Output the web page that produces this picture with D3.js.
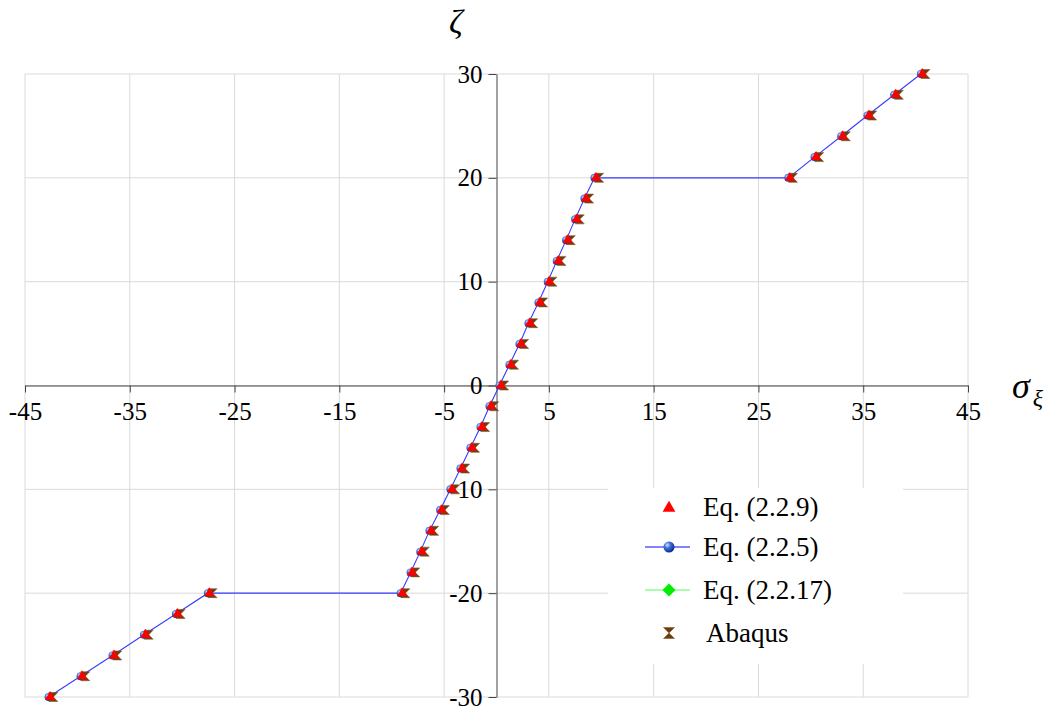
<!DOCTYPE html>
<html>
<head>
<meta charset="utf-8">
<script src="https://cdn.jsdelivr.net/npm/d3@7"></script>
<style>
  body { margin: 0; background: #fff; }
  svg { display: block; }
  .tick text { font-family: "Liberation Serif", serif; font-size: 25px; fill: #000; }
</style>
</head>
<body>
<div id="chart"></div>
<script>
// valeurs
const zeta = [-30, -28, -26, -24, -22, -20,
  -20, -18, -16, -14, -12, -10, -8, -6, -4, -2, 0, 2, 4, 6, 8, 10, 12, 14, 16, 18, 20,
  20, 22, 24, 26, 28, 30];

const sigmaEq229 = [-42.6, -39.55, -36.5, -33.5, -30.45, -27.4,
  -9.0, -8.06, -7.14, -6.25, -5.23, -4.25, -3.29, -2.34, -1.38, -0.52, 0.43, 1.38, 2.34, 3.2, 4.15,
  5.04, 5.9, 6.79, 7.65, 8.54, 9.5,
  28.0, 30.5, 33.04, 35.55, 38.1, 40.64];

const sigmaEq225 = [-42.75, -39.7, -36.65, -33.65, -30.6, -27.55,
  -9.15, -8.2, -7.28, -6.4, -5.38, -4.4, -3.44, -2.49, -1.53, -0.67, 0.28, 1.23, 2.19, 3.05, 4.0,
  4.89, 5.75, 6.64, 7.5, 8.39, 9.35,
  27.85, 30.35, 32.9, 35.4, 37.95, 40.5];

const sigmaEq2217 = [-42.65, -39.6, -36.55, -33.55, -30.5, -27.45,
  -9.05, -8.1, -7.2, -6.3, -5.28, -4.3, -3.34, -2.4, -1.43, -0.57, 0.38, 1.33, 2.29, 3.15, 4.1,
  4.99, 5.85, 6.74, 7.6, 8.49, 9.45,
  27.95, 30.45, 33.0, 35.5, 38.05, 40.6];

const sigmaAbaqus = [-42.3, -39.25, -36.2, -33.2, -30.15, -27.1,
  -8.7, -7.76, -6.84, -5.95, -4.93, -3.95, -2.99, -2.04, -1.08, -0.22, 0.73, 1.68, 2.64, 3.5, 4.45,
  5.34, 6.2, 7.09, 7.95, 8.84, 9.8,
  28.3, 30.8, 33.34, 35.85, 38.4, 40.94];

const xTicks = [-45, -35, -25, -15, -5, 5, 15, 25, 35, 45];
const yTicks = [-30, -20, -10, 0, 10, 20, 30];
const legendLabels = ["Eq. (2.2.9)", "Eq. (2.2.5)", "Eq. (2.2.17)", "Abaqus"];

const width = 1057, height = 706;
const svg = d3.select("#chart").append("svg")
  .attr("width", width)
  .attr("height", height);

const x = d3.scaleLinear().domain([-45, 45]).range([25, 968]);
const y = d3.scaleLinear().domain([-30, 30]).range([697, 74]);

const defs = svg.append("defs");
const grad = defs.append("radialGradient")
  .attr("id", "ball")
  .attr("cx", "35%").attr("cy", "32%").attr("r", "70%");
grad.append("stop").attr("offset", "0%").attr("stop-color", "#d6e4ff");
grad.append("stop").attr("offset", "40%").attr("stop-color", "#3f73e0");
grad.append("stop").attr("offset", "100%").attr("stop-color", "#0b2a85");

// grille
svg.append("g").selectAll("line")
  .data(xTicks)
  .enter().append("line")
  .attr("x1", d => x(d)).attr("x2", d => x(d))
  .attr("y1", y(30)).attr("y2", y(-30))
  .attr("stroke", "#dadada").attr("stroke-width", 1);

svg.append("g").selectAll("line")
  .data(yTicks)
  .enter().append("line")
  .attr("x1", x(-45)).attr("x2", x(45))
  .attr("y1", d => y(d)).attr("y2", d => y(d))
  .attr("stroke", "#dadada").attr("stroke-width", 1);

// axes
const xAxis = svg.append("g")
  .attr("transform", `translate(0,${y(0)})`)
  .call(d3.axisBottom(x).tickValues(xTicks).tickFormat(d => String(d))
    .tickSize(7).tickSizeOuter(0).tickPadding(10));

const yAxis = svg.append("g")
  .attr("transform", `translate(${x(0)},0)`)
  .call(d3.axisLeft(y).tickValues(yTicks).tickFormat(d => String(d))
    .tickSize(8).tickSizeOuter(0).tickPadding(6));

[xAxis, yAxis].forEach(g => {
  g.select(".domain").attr("stroke", "#444");
  g.selectAll(".tick line").attr("stroke", "#444");
  g.attr("font-family", null).attr("font-size", null);
});

// titres des axes
svg.append("text")
  .attr("x", 456).attr("y", 33)
  .attr("text-anchor", "middle")
  .style("font-family", "Liberation Serif, serif")
  .style("font-style", "italic")
  .style("font-size", "34px")
  .text("ζ");

const sx = svg.append("text")
  .attr("x", 1012).attr("y", 398)
  .style("font-family", "Liberation Serif, serif")
  .style("font-style", "italic")
  .style("font-size", "36px");
sx.append("tspan").text("σ");
sx.append("tspan").attr("dx", 3).attr("dy", 8).style("font-size", "24px").text("ξ");

// séries
const points = (xs) => zeta.map((z, i) => [xs[i], z]);

svg.append("path")
  .datum(points(sigmaEq225))
  .attr("fill", "none")
  .attr("stroke", "#3a3aff")
  .attr("stroke-width", 1.1)
  .attr("d", d3.line().x(d => x(d[0])).y(d => y(d[1])));

const triangle = d3.symbol().type(d3.symbolTriangle).size(46);
const hourglass = s => `M${-s},${-s}L${s},${-s}L0,0L${s},${s}L${-s},${s}L0,0Z`;
const rhombus = s => `M0,${-s}L${s},0L0,${s}L${-s},0Z`;

svg.append("g").selectAll("path")
  .data(points(sigmaEq2217))
  .enter().append("path")
  .attr("transform", d => `translate(${x(d[0])},${y(d[1])})`)
  .attr("d", rhombus(4.5))
  .attr("fill", "#00e600");

svg.append("g").selectAll("circle")
  .data(points(sigmaEq225))
  .enter().append("circle")
  .attr("cx", d => x(d[0])).attr("cy", d => y(d[1]))
  .attr("r", 4)
  .attr("fill", "url(#ball)");

svg.append("g").selectAll("path")
  .data(points(sigmaAbaqus))
  .enter().append("path")
  .attr("transform", d => `translate(${x(d[0])},${y(d[1])})`)
  .attr("d", hourglass(4.5))
  .attr("fill", "#6b3d10")
  .attr("stroke", "#8a5a2a").attr("stroke-width", 0.6);

svg.append("g").selectAll("path")
  .data(points(sigmaEq229))
  .enter().append("path")
  .attr("transform", d => `translate(${x(d[0])},${y(d[1])})`)
  .attr("d", triangle)
  .attr("fill", "#ff0000");

// légende
const lg = svg.append("g");
lg.append("rect")
  .attr("x", 608).attr("y", 488)
  .attr("width", 295).attr("height", 176)
  .attr("fill", "#fff");

const rowY = [507, 547, 590, 633];
const mx = 669;

// Eq. (2.2.9)
lg.append("path")
  .attr("transform", `translate(${mx},${rowY[0] + 1})`)
  .attr("d", d3.symbol().type(d3.symbolTriangle).size(70)).attr("fill", "#ff0000");

// Eq. (2.2.5)
lg.append("line")
  .attr("x1", 645).attr("x2", 690).attr("y1", rowY[1]).attr("y2", rowY[1])
  .attr("stroke", "#5a5aff").attr("stroke-width", 1.4);
lg.append("circle")
  .attr("cx", mx).attr("cy", rowY[1]).attr("r", 5.5)
  .attr("fill", "url(#ball)");

// Eq. (2.2.17)
lg.append("line")
  .attr("x1", 645).attr("x2", 690).attr("y1", rowY[2]).attr("y2", rowY[2])
  .attr("stroke", "#55ff55").attr("stroke-width", 1.2);
lg.append("path")
  .attr("transform", `translate(${mx},${rowY[2]})`)
  .attr("d", rhombus(6.5))
  .attr("fill", "#00ee00");

// Abaqus
lg.append("path")
  .attr("transform", `translate(${mx},${rowY[3]})`)
  .attr("d", hourglass(5.5))
  .attr("fill", "#6b3d10")
  .attr("stroke", "#8a5a2a").attr("stroke-width", 0.6);

lg.selectAll("text.lab")
  .data(legendLabels)
  .enter().append("text")
  .attr("class", "lab")
  .attr("x", (d, i) => i === 3 ? 706 : 703)
  .attr("y", (d, i) => rowY[i] + 9)
  .style("font-family", "Liberation Serif, serif")
  .style("font-size", "27px")
  .text(d => d);
</script>
</body>
</html>
